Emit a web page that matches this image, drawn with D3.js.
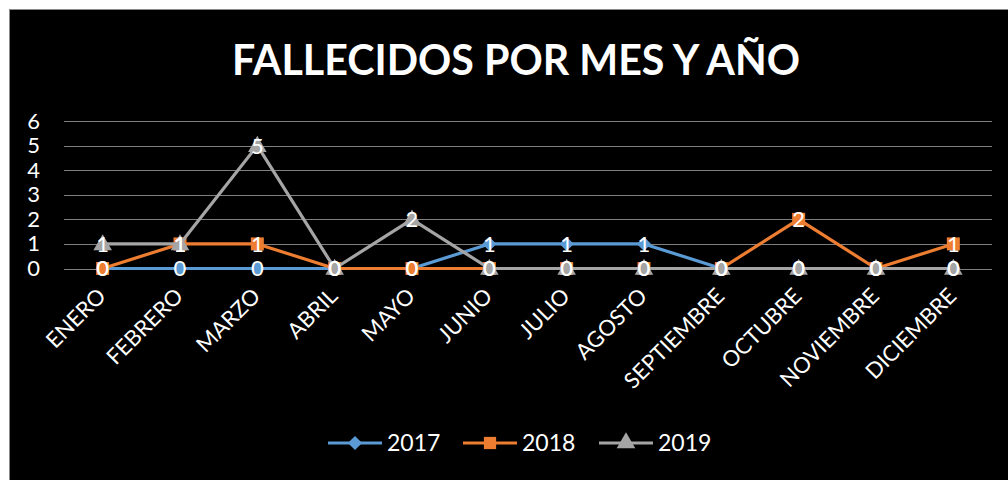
<!DOCTYPE html>
<html><head><meta charset="utf-8">
<script src="https://cdn.jsdelivr.net/npm/d3@7"></script>
<style>body{margin:0;background:#fff}svg{display:block}text{font-family:Lato,"Open Sans",sans-serif}</style>
</head><body><svg id="c" width="1008" height="480"></svg>
<script>
const months = ["ENERO","FEBRERO","MARZO","ABRIL","MAYO","JUNIO","JULIO","AGOSTO","SEPTIEMBRE","OCTUBRE","NOVIEMBRE","DICIEMBRE"];
const years = ["2017","2018","2019"];
const v2017 = [0,0,0,0,0,1,1,1,0,0,0,0];
const v2018 = [0,1,1,0,0,0,0,0,0,2,0,1];
const v2019 = [1,1,5,0,2,0,0,0,0,0,0,0];
const yTicks = [0,1,2,3,4,5,6];
const title = "FALLECIDOS POR MES Y AÑO";
const colors = ["#5B9BD5","#ED7D31","#A5A5A5"];
const shapes = [d3.symbolSquare, d3.symbolSquare, d3.symbolTriangle];
const rots = [45, 0, 0];
const series = [v2017, v2018, v2019];

const svg = d3.select("#c");
svg.append("rect").attr("x",9.5).attr("y",9.5).attr("width",1010).attr("height",480)
  .attr("fill","#000").attr("stroke","#8a8a8a").attr("stroke-width",1);

svg.append("text").attr("x",516).attr("y",75).attr("text-anchor","middle")
  .attr("fill","#fff").attr("font-weight","bold").attr("font-size",42)
  .attr("textLength",568).attr("lengthAdjust","spacingAndGlyphs").text(title);

const x = d3.scaleBand().domain(months).range([64,992]).padding(0);
const y = d3.scaleLinear().domain([0,6]).range([268.5,121]);
const cx = m => x(m) + x.bandwidth()/2;

// gridlines
svg.append("g").selectAll("line").data(yTicks).join("line")
  .attr("x1",64).attr("x2",992).attr("y1",d=>Math.round(y(d))+0.5).attr("y2",d=>Math.round(y(d))+0.5)
  .attr("stroke","#7f7f7f").attr("stroke-width",1);

// y axis labels
const yAxis = d3.axisLeft(y).tickValues(yTicks).tickSize(0).tickPadding(0).tickFormat(d3.format("d"));
const gy = svg.append("g").attr("transform","translate(40,0)").call(yAxis);
gy.select(".domain").remove();
gy.selectAll("text").attr("fill","#fff").attr("font-size",22).attr("font-family","Lato,sans-serif");

// x axis labels
const xAxis = d3.axisBottom(x).tickSize(0).tickPadding(0);
const gx = svg.append("g").attr("transform","translate(0,280)").call(xAxis);
gx.select(".domain").remove();
gx.selectAll("text").attr("fill","#fff").attr("font-size",22).attr("font-family","Lato,sans-serif")
  .attr("text-anchor","end").attr("dy","0.35em")
  .attr("transform","translate(-1,12) rotate(-45)");

// lines
const line = d3.line().x((d,i)=>cx(months[i])).y(d=>y(d));
const msize = [100,169,150];
series.forEach((s,k)=>{
  svg.append("path").datum(s).attr("d",line).attr("fill","none")
    .attr("stroke",colors[k]).attr("stroke-width",3.2).attr("stroke-linejoin","round");
  svg.append("g").selectAll("path").data(s).join("path")
    .attr("d",d3.symbol().type(shapes[k]).size(msize[k]))
    .attr("transform",(d,i)=>`translate(${cx(months[i])},${y(d)+(k===2?1:0)}) rotate(${rots[k]})`)
    .attr("fill",colors[k]);
});
// data labels
series.forEach((s,k)=>{
  svg.append("g").selectAll("text").data(s).join("text")
    .attr("x",(d,i)=>cx(months[i])).attr("y",d=>y(d)).attr("dy","0.36em")
    .attr("text-anchor","middle").attr("fill","#fff").attr("font-size",22).text(d=>d);
});

// legend
const legX = [328,463,599];
const lsize = [100,150,150];
const lg = svg.append("g");
years.forEach((yr,k)=>{
  const g = lg.append("g").attr("transform",`translate(${legX[k]},443)`);
  g.append("line").attr("x1",0).attr("x2",54).attr("stroke",colors[k]).attr("stroke-width",3.2);
  g.append("path").attr("d",d3.symbol().type(shapes[k]).size(lsize[k]))
    .attr("transform",`translate(27,0) rotate(${rots[k]})`).attr("fill",colors[k]);
  g.append("text").attr("x",59).attr("dy","0.36em").attr("fill","#fff").attr("font-size",23).text(yr);
});
</script></body></html>
